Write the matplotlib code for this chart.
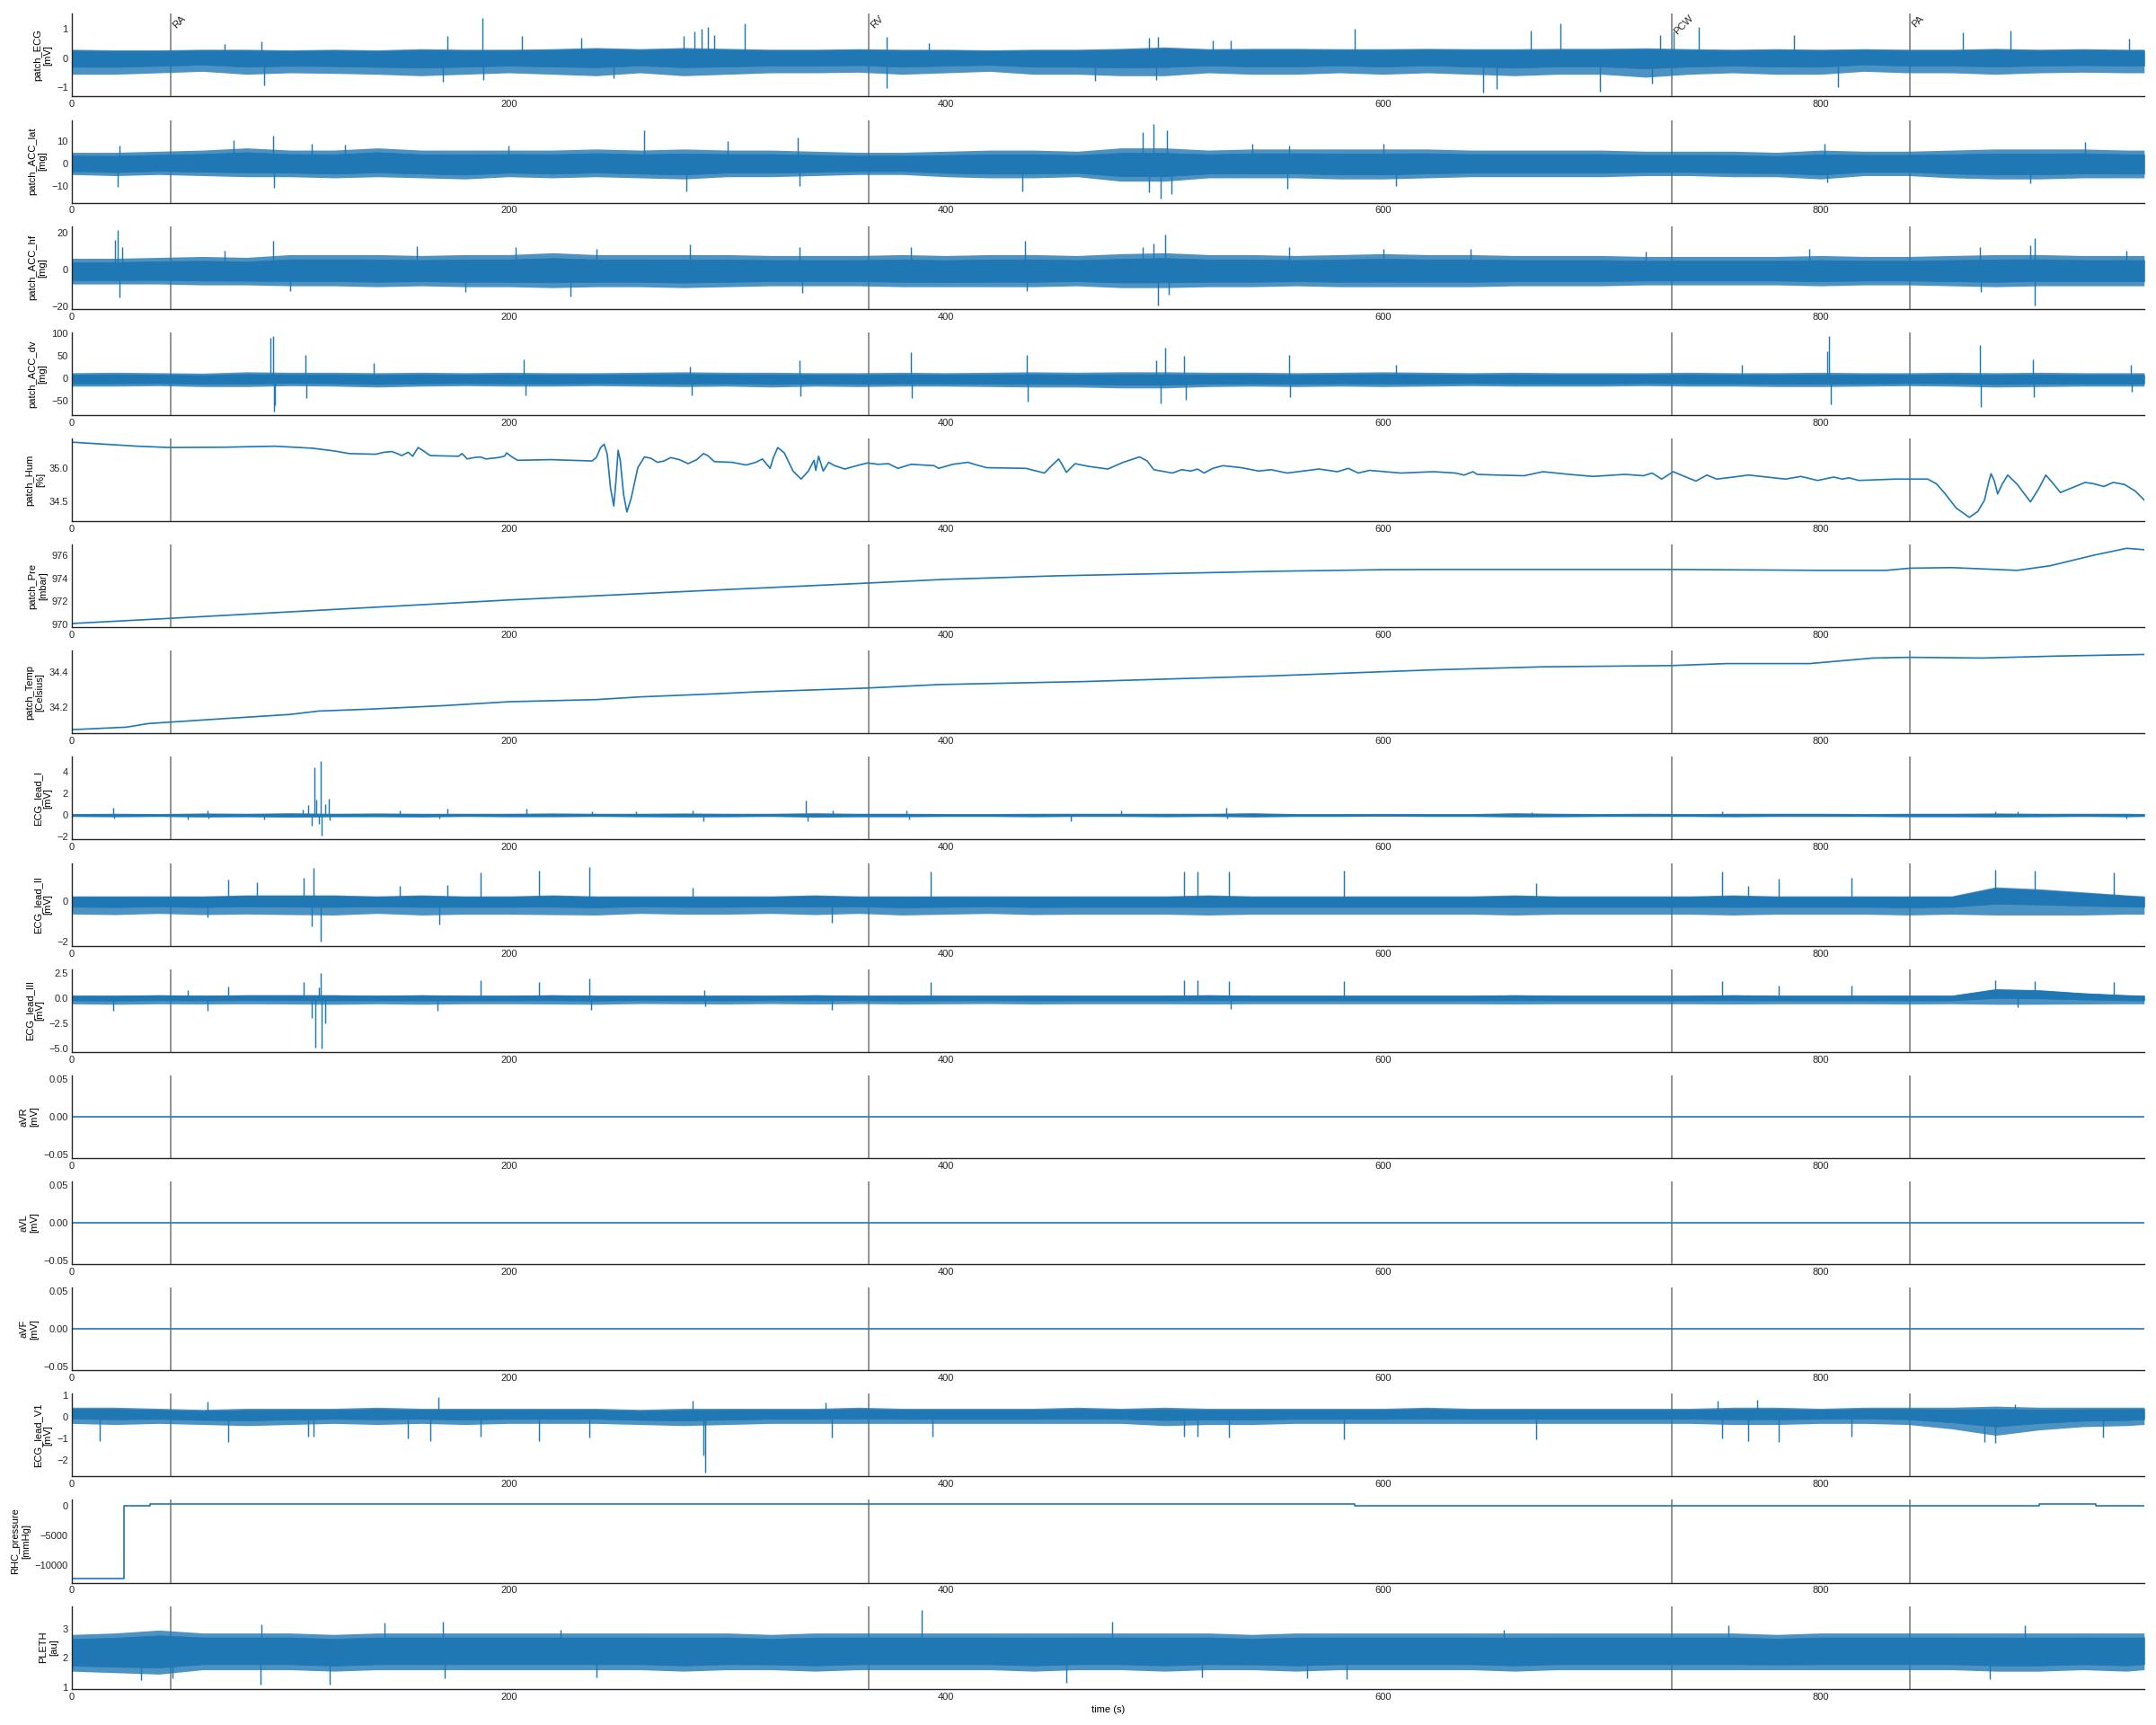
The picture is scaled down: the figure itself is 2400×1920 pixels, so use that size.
import numpy as np
import matplotlib
matplotlib.use("Agg")
import matplotlib.pyplot as plt

plt.rcParams['font.family'] = ['Liberation Sans', 'DejaVu Sans']
plt.rcParams['font.size'] = 10
plt.rcParams['axes.edgecolor'] = '.15'
plt.rcParams['axes.linewidth'] = 1.25
plt.rcParams['xtick.color'] = '.15'
plt.rcParams['ytick.color'] = '.15'
plt.rcParams['xtick.major.size'] = 0
plt.rcParams['ytick.major.size'] = 0

BLUE = '#1f77b4'
T_END = 948

# catheter positions (s)
EVENTS = [45.4, 364.6, 732.0, 841.0]
EVENT_NAMES = ['RA', 'RV', 'PCW', 'PA']

# time nodes for the band (envelope) of the dense signals
T_ENV = [0, 20, 40, 60, 80, 100, 120, 140, 160, 180, 200, 220, 240, 260, 280,
         300, 320, 340, 360, 380, 400, 420, 440, 460, 480, 500, 520, 540, 560, 580,
         600, 620, 640, 660, 680, 700, 720, 740, 760, 780, 800, 820, 840, 860, 880,
         900, 920, 940, 948]

# ---- patch_ECG
ECG_HI = [0.30, 0.28, 0.28, 0.30, 0.30, 0.28, 0.30, 0.28, 0.32, 0.30,
          0.30, 0.32, 0.36, 0.32, 0.36, 0.33, 0.30, 0.30, 0.32, 0.30,
          0.30, 0.28, 0.30, 0.30, 0.33, 0.38, 0.32, 0.33, 0.33, 0.32,
          0.32, 0.33, 0.32, 0.32, 0.33, 0.33, 0.35, 0.32, 0.30, 0.32,
          0.30, 0.32, 0.30, 0.30, 0.33, 0.30, 0.32, 0.30, 0.30]
ECG_LO = [-0.55, -0.55, -0.50, -0.45, -0.55, -0.50, -0.52, -0.55, -0.60, -0.55,
          -0.50, -0.55, -0.60, -0.50, -0.60, -0.55, -0.50, -0.50, -0.48, -0.55,
          -0.50, -0.45, -0.55, -0.55, -0.60, -0.60, -0.50, -0.55, -0.55, -0.50,
          -0.55, -0.50, -0.55, -0.60, -0.55, -0.55, -0.65, -0.55, -0.50, -0.55,
          -0.55, -0.45, -0.50, -0.50, -0.55, -0.50, -0.48, -0.50, -0.50]
ECG_SPIKES = [(70, 0.48), (87, 0.58), (88, -0.94), (170, -0.82), (172, 0.74), (188, 1.38),
              (188.5, -0.75), (206, 0.74), (233, 0.70), (248, -0.67), (280, 0.75), (285, 0.9),
              (288, 1.0), (291, 1.05), (294, 0.8), (308, 1.19), (372.7, 0.73), (373, -1.03),
              (392, 0.5), (468, -0.76), (493, 0.7), (496, -0.73), (497, 0.73), (522, 0.6),
              (530, 0.6), (587, 1.01), (645.6, -1.18), (652, -1.06), (667.6, 0.93), (681, 1.19),
              (699, -1.15), (723, -0.88), (726.5, 0.78), (732.7, 0.9), (744.3, 1.06),
              (787.7, 0.8), (808, -1.0), (865, 0.87), (887, 0.93), (941, 0.66)]

# ---- patch_ACC_lat
LAT_HI = [5, 5, 5.5, 6, 7, 6, 6, 7, 6, 6,
          6, 6, 6.5, 6, 6.5, 6, 6, 5.5, 5, 5,
          5.5, 6, 6, 5.5, 7, 7, 6, 6.5, 6.5, 6.5,
          6.5, 6.5, 6, 6, 6, 6, 5.5, 5.5, 5.5, 5,
          6, 5.5, 5.5, 6, 6.5, 6.5, 6.5, 6, 6]
LAT_LO = [-5, -5.5, -5, -5.5, -6, -6, -6.5, -6, -6.5, -7,
          -6, -6.5, -6, -6.5, -7, -6, -6, -5.5, -5, -5,
          -6, -6.5, -6.5, -6, -8, -8, -6.5, -6.5, -6.5, -7,
          -7, -6.5, -6, -6, -6, -6, -5.5, -5.5, -6, -6,
          -7, -5.5, -5.5, -6.5, -7, -7, -6.5, -6.5, -6.5]
LAT_SPIKES = [(21, -10.5), (22, 8), (74, 10.5), (92, 12.7), (92.5, -11), (110, 9), (125, 8.5),
              (200, 8), (262, 15), (281, -12.5), (300, 10), (332, 11.6), (333, -10),
              (435, -12.6), (490, 14), (493, -13), (495, 17.9), (498, -16), (501, 15),
              (503, -14), (540, 9), (556, -11.3), (557, 8), (600, 9), (606, -10), (802, 9),
              (803, -8.5), (896, -9), (921, 9.5)]

# ---- patch_ACC_hf
HF_HI = [6, 6, 6.5, 7, 6.5, 8, 8, 8, 7.5, 8,
         8, 9, 8, 8, 8, 8, 7.5, 7.5, 7.5, 8,
         7.5, 8, 8, 7.5, 8.5, 9, 8, 8, 7.5, 8,
         8.5, 8, 8, 7.5, 7.5, 7.5, 7, 7, 7, 7,
         7.5, 7, 7, 7.5, 8, 8, 7.5, 7.5, 7.5]
HF_LO = [-8, -8, -8, -8.5, -8.5, -9, -9, -9.5, -9, -9.5,
         -9.5, -10, -9.5, -9.5, -10, -9.5, -9, -9, -9, -9.5,
         -9.5, -9.5, -9.5, -9, -10, -10, -9.5, -9.5, -9, -9.5,
         -9.5, -9.5, -9.5, -9, -9, -9, -8.5, -8.5, -8.5, -8.5,
         -9, -8.5, -8.5, -9, -9.5, -9, -9, -9, -9]
HF_SPIKES = [(20, 16), (21, 21.5), (22, -15.4), (23, 12), (70, 10), (92, 15.4), (100, -12),
             (158, 12.5), (180, -12.5), (203, 12), (228, -15), (240, 11), (283, 13.6),
             (333, 11.9), (334, -13.1), (384, 12), (436, 15.4), (437, -12), (490, 12),
             (495, 14), (497, -19.5), (500.4, 19.1), (502, -14), (557, 12), (600, 11),
             (640, 11), (720, 9.5), (795, 11), (873, 12), (873.5, -12.3), (896, 13),
             (897.8, 17), (898, -19.5), (940, 10)]

# ---- patch_ACC_dv
DV_HI = [12, 13, 12, 11, 14, 13, 13, 12, 13, 12,
         13, 12, 12, 13, 14, 13, 13, 12, 12, 13,
         12, 13, 14, 13, 14, 14, 13, 13, 12, 13,
         14, 13, 12, 13, 12, 12, 12, 13, 12, 12,
         13, 12, 12, 13, 12, 13, 12, 12, 12]
DV_LO = [-18, -18, -17, -19, -19, -17, -18, -20, -18, -17,
         -18, -18, -17, -18, -19, -18, -20, -18, -19, -18,
         -18, -19, -20, -20, -22, -22, -19, -18, -19, -18,
         -19, -18, -17, -18, -18, -18, -17, -18, -18, -19,
         -19, -18, -17, -18, -20, -19, -18, -18, -18]
DV_SPIKES = [(91, 90), (92, 94), (92.5, -74), (93, -60), (107, 52), (107.5, -44), (138, 34),
             (207, 42), (207.5, -38), (283, 25), (283.5, -38), (333, 40), (333.5, -40),
             (384, 57), (384.5, -45), (437, 51), (437.5, -52), (496, 40), (498, -56),
             (500, 67), (509, 50), (509.5, -48), (557, 52), (557.5, -42), (606, 30),
             (764, 30), (803, 60), (804, 94), (804.5, -59), (873, 74), (873.5, -65),
             (897, 42), (897.5, -42), (942, 30), (942.5, -30)]

# ---- patch_Hum (t, %)
HUM_POINTS = [(0, 35.38), (15, 35.35), (30, 35.32), (45, 35.30), (70, 35.305), (93, 35.32),
              (110, 35.29), (120, 35.25), (127, 35.21), (139, 35.20), (143, 35.23),
              (146.5, 35.24), (149, 35.21), (151, 35.18), (154, 35.23), (156, 35.17),
              (158.5, 35.30), (161, 35.25), (164, 35.18), (177, 35.17), (178.6, 35.21),
              (181, 35.13), (184, 35.15), (187, 35.16), (189.5, 35.13), (195, 35.15),
              (198, 35.17), (199, 35.22), (201, 35.17), (204, 35.11), (219, 35.12),
              (238, 35.10), (240, 35.15), (242, 35.30), (243.6, 35.35), (245, 35.2),
              (246.5, 34.7), (248, 34.43), (249, 34.8), (250, 35.26), (251, 35.1),
              (252.5, 34.6), (254, 34.34), (256, 34.55), (259, 35.0), (262, 35.16),
              (265, 35.14), (268, 35.08), (271, 35.10), (274, 35.15), (278, 35.12),
              (282, 35.06), (286, 35.12), (289, 35.21), (291, 35.18), (294, 35.09),
              (302, 35.08), (308.6, 35.04), (313, 35.08), (316, 35.13), (319.5, 34.99),
              (321, 35.15), (323, 35.30), (326, 35.22), (330, 34.95), (333.7, 34.83),
              (337, 34.95), (339.6, 35.11), (340.4, 34.96), (341.7, 35.17), (343.8, 34.95),
              (346.3, 35.08), (349, 35.03), (353.7, 34.98), (358, 35.02), (364, 35.07),
              (369, 35.05), (373.6, 35.06), (378, 34.99), (384, 35.05), (394.5, 35.03),
              (396.6, 34.99), (403, 35.05), (410, 35.08), (414, 35.04), (418.6, 35.00),
              (436.5, 34.99), (445, 34.92), (448, 35.02), (451.5, 35.13), (453, 35.05),
              (455, 34.93), (459, 35.06), (465, 35.02), (474, 34.98), (481, 35.08),
              (488.5, 35.16), (492, 35.10), (495, 34.97), (503.5, 34.92), (507.7, 34.97),
              (512, 34.95), (515, 34.98), (518, 34.92), (522, 34.99), (526.6, 35.03),
              (535, 35.00), (543, 34.95), (548.6, 34.97), (556, 34.92), (570.6, 34.98),
              (579, 34.94), (584, 34.99), (588.5, 34.92), (593.7, 34.96), (608, 34.92),
              (623, 34.94), (633, 34.92), (637, 34.89), (641, 34.94), (643, 34.90),
              (652, 34.89), (664.4, 34.88), (673, 34.94), (685, 34.90), (696, 34.87),
              (710.6, 34.90), (719, 34.88), (723, 34.92), (727.3, 34.83), (732.6, 34.94),
              (737, 34.88), (743, 34.80), (748, 34.89), (752.5, 34.83), (760, 34.86),
              (767, 34.89), (784, 34.83), (791, 34.87), (798.6, 34.81), (806, 34.86),
              (810, 34.83), (813, 34.85), (817.5, 34.81), (834, 34.83), (849, 34.83),
              (853, 34.76), (857, 34.61), (862, 34.40), (868, 34.26), (872, 34.35),
              (875, 34.52), (877, 34.80), (878, 34.91), (879.5, 34.80), (881, 34.61),
              (883, 34.75), (885.6, 34.89), (890, 34.75), (896, 34.49), (900, 34.70),
              (903, 34.89), (906, 34.78), (909.7, 34.63), (915, 34.70), (921, 34.78),
              (925, 34.76), (929.6, 34.72), (933.8, 34.78), (939, 34.75), (944, 34.65),
              (948, 34.52)]

# ---- patch_Pre (t, mbar)
PRE_POINTS = [(0, 970.05), (45, 970.5), (200, 972.1), (294, 972.96), (364, 973.57),
              (400, 973.9), (450, 974.2), (500, 974.4), (550, 974.6), (600, 974.74),
              (625, 974.76), (732, 974.76), (800, 974.68), (830, 974.68), (841, 974.87),
              (860, 974.92), (890, 974.68), (905, 975.08), (925, 976.0), (940, 976.6),
              (948, 976.48)]

# ---- patch_Temp (t, Celsius)
TEMP_POINTS = [(0, 34.076), (25, 34.09), (35, 34.11), (45, 34.118), (70, 34.138),
               (100, 34.161), (113, 34.18), (135, 34.19), (170, 34.21), (200, 34.232),
               (240, 34.244), (260, 34.259), (294, 34.276), (313, 34.287), (363, 34.308),
               (397, 34.328), (464, 34.345), (548, 34.376), (623, 34.41), (673, 34.427),
               (732, 34.434), (757, 34.445), (795, 34.445), (824, 34.476), (841, 34.48),
               (874, 34.476), (908, 34.487), (948, 34.496)]

# ---- ECG_lead_I
L1_HI = [0.12, 0.15, 0.12, 0.18, 0.15, 0.20, 0.15, 0.18, 0.15, 0.15,
         0.15, 0.18, 0.15, 0.15, 0.18, 0.15, 0.15, 0.20, 0.15, 0.15,
         0.12, 0.12, 0.15, 0.15, 0.15, 0.15, 0.15, 0.20, 0.12, 0.12,
         0.12, 0.12, 0.12, 0.20, 0.15, 0.12, 0.15, 0.12, 0.15, 0.15,
         0.15, 0.12, 0.15, 0.15, 0.18, 0.15, 0.15, 0.15, 0.12]
L1_LO = [-0.15, -0.18, -0.15, -0.20, -0.18, -0.22, -0.18, -0.18, -0.20, -0.15,
         -0.18, -0.18, -0.15, -0.18, -0.20, -0.18, -0.15, -0.22, -0.18, -0.18,
         -0.15, -0.15, -0.18, -0.15, -0.15, -0.18, -0.15, -0.20, -0.15, -0.15,
         -0.12, -0.15, -0.15, -0.20, -0.18, -0.15, -0.15, -0.15, -0.18, -0.15,
         -0.15, -0.15, -0.18, -0.18, -0.20, -0.18, -0.15, -0.18, -0.15]
L1_SPIKES = [(19, 0.65), (19.5, -0.3), (53, -0.45), (62, 0.4), (62.5, -0.35), (88, -0.4),
             (105.6, 0.5), (108, 0.9), (110, -1.0), (111, 4.44), (112, 1.4), (113, -0.8),
             (114, 5.06), (114.5, -1.95), (116, 1.0), (117.6, 1.5), (118, -0.5), (150, 0.4),
             (168, -0.35), (172, 0.6), (208, 0.55), (238, 0.3), (258, 0.35), (284, 0.4),
             (289, -0.6), (336, 1.36), (336.5, -0.6), (348, 0.4), (382, 0.4), (383, -0.4),
             (457, -0.6), (480, 0.4), (528, 0.65), (528.5, -0.3), (668, 0.25), (755, 0.35),
             (880, 0.3), (890, 0.35), (940, -0.3)]

# ---- ECG_lead_II
L2_HI = [0.25, 0.25, 0.25, 0.25, 0.30, 0.30, 0.30, 0.25, 0.30, 0.25,
         0.25, 0.30, 0.25, 0.25, 0.25, 0.25, 0.25, 0.30, 0.25, 0.25,
         0.25, 0.25, 0.25, 0.25, 0.25, 0.25, 0.30, 0.25, 0.25, 0.25,
         0.25, 0.25, 0.25, 0.30, 0.25, 0.25, 0.25, 0.25, 0.30, 0.25,
         0.25, 0.25, 0.25, 0.25, 0.70, 0.60, 0.45, 0.30, 0.25]
L2_LO = [-0.65, -0.68, -0.62, -0.68, -0.65, -0.68, -0.70, -0.62, -0.70, -0.66,
         -0.66, -0.68, -0.70, -0.62, -0.66, -0.66, -0.62, -0.68, -0.62, -0.70,
         -0.66, -0.62, -0.68, -0.66, -0.66, -0.66, -0.70, -0.66, -0.66, -0.66,
         -0.66, -0.66, -0.66, -0.70, -0.66, -0.66, -0.66, -0.66, -0.70, -0.66,
         -0.66, -0.66, -0.70, -0.66, -0.70, -0.70, -0.70, -0.66, -0.66]
L2_SPIKES = [(62, -0.8), (71.5, 1.05), (84.7, 0.95), (106, 1.15), (110, -1.26), (110.5, 1.63),
             (114, -2.04), (150, 0.75), (168, -1.15), (172, 0.8), (187, 1.4), (214, 1.5),
             (237, 1.7), (284, 0.65), (347.6, -1.1), (393, 1.48), (509, 1.48), (515, 1.48),
             (529.5, 1.48), (582, 1.52), (670, 0.9), (755, 1.48), (767, 0.75), (781, 1.1),
             (814, 1.15), (880, 1.55), (898, 1.5), (934, 1.4)]

# ---- ECG_lead_III
L3_HI = [0.25, 0.25, 0.30, 0.25, 0.30, 0.30, 0.30, 0.25, 0.30, 0.25,
         0.25, 0.30, 0.25, 0.25, 0.25, 0.25, 0.25, 0.30, 0.25, 0.25,
         0.25, 0.25, 0.25, 0.25, 0.25, 0.25, 0.30, 0.25, 0.25, 0.25,
         0.25, 0.25, 0.25, 0.30, 0.25, 0.25, 0.25, 0.25, 0.30, 0.25,
         0.25, 0.25, 0.25, 0.25, 0.90, 0.80, 0.50, 0.30, 0.25]
L3_LO = [-0.60, -0.65, -0.60, -0.62, -0.60, -0.62, -0.65, -0.60, -0.65, -0.60,
         -0.60, -0.62, -0.65, -0.58, -0.60, -0.62, -0.58, -0.62, -0.58, -0.62,
         -0.60, -0.58, -0.62, -0.60, -0.60, -0.60, -0.62, -0.60, -0.60, -0.60,
         -0.60, -0.60, -0.60, -0.62, -0.60, -0.60, -0.60, -0.60, -0.62, -0.60,
         -0.60, -0.60, -0.62, -0.60, -0.65, -0.65, -0.62, -0.60, -0.60]
L3_SPIKES = [(19, -1.3), (53, 0.8), (62, -1.3), (71.5, 1.1), (106, 1.6), (110, -2.0),
             (111.5, -4.97), (113, 1.0), (114, 2.47), (114.5, -5.0), (116, -2.5),
             (167.5, -1.3), (187, 1.73), (214, 1.6), (237, 1.93), (237.5, -1.2),
             (289.5, 0.8), (290, -0.8), (347.6, -1.2), (393, 1.6), (509, 1.75), (515, 1.75),
             (529.5, 1.7), (530, -1.1), (582, 1.7), (755, 1.7), (781, 1.2), (814, 1.2),
             (880, 1.75), (890, -0.9), (898, 1.7), (934, 1.6)]

# ---- ECG_lead_V1
V1_HI = [0.45, 0.45, 0.40, 0.35, 0.40, 0.40, 0.40, 0.45, 0.40, 0.40,
         0.40, 0.40, 0.40, 0.35, 0.40, 0.40, 0.40, 0.40, 0.45, 0.40,
         0.40, 0.40, 0.40, 0.45, 0.40, 0.45, 0.40, 0.40, 0.40, 0.40,
         0.40, 0.45, 0.40, 0.40, 0.40, 0.40, 0.40, 0.40, 0.45, 0.45,
         0.40, 0.45, 0.45, 0.45, 0.50, 0.45, 0.45, 0.45, 0.45]
V1_LO = [-0.30, -0.35, -0.30, -0.35, -0.40, -0.35, -0.30, -0.35, -0.30, -0.35,
         -0.30, -0.30, -0.30, -0.35, -0.40, -0.35, -0.30, -0.30, -0.30, -0.30,
         -0.30, -0.30, -0.30, -0.30, -0.30, -0.40, -0.35, -0.35, -0.30, -0.30,
         -0.30, -0.30, -0.30, -0.30, -0.30, -0.30, -0.30, -0.30, -0.35, -0.35,
         -0.30, -0.30, -0.35, -0.55, -0.85, -0.60, -0.45, -0.40, -0.35]
V1_SPIKES = [(13, -1.12), (62, 0.7), (71.5, -1.15), (108, -0.9), (110.5, -0.9), (154, -1.0),
             (164, -1.1), (167.7, 0.9), (187, -0.9), (214, -1.1), (237, -0.95), (284, 0.75),
             (289, -1.8), (290, -2.58), (345, 0.65), (347.8, -0.93), (393.7, -0.9),
             (509, -0.9), (515, -0.9), (529.5, -0.95), (582, -1.05), (670, -1.05),
             (753, 0.75), (755, -1.0), (767, -1.1), (771, 0.8), (781, -1.15), (814, -0.9),
             (875, -1.15), (880, -1.2), (889, 0.6), (929, -0.95)]

# ---- RHC_pressure (step changes: t, mmHg)
RHC_T = [0, 24, 36, 587, 900, 926, 948]
RHC_V = [-12320, -60, 250, -50, 350, -50, -50]

# ---- PLETH
PL_HI = [2.80, 2.85, 2.95, 2.85, 2.85, 2.85, 2.80, 2.85, 2.85, 2.85,
         2.85, 2.85, 2.85, 2.85, 2.85, 2.85, 2.80, 2.85, 2.85, 2.85,
         2.85, 2.85, 2.85, 2.85, 2.85, 2.85, 2.85, 2.80, 2.85, 2.85,
         2.85, 2.85, 2.85, 2.85, 2.85, 2.85, 2.85, 2.85, 2.85, 2.80,
         2.85, 2.85, 2.85, 2.85, 2.85, 2.85, 2.85, 2.85, 2.85]
PL_LO = [1.55, 1.50, 1.45, 1.60, 1.60, 1.60, 1.55, 1.60, 1.60, 1.60,
         1.60, 1.60, 1.60, 1.60, 1.55, 1.60, 1.60, 1.55, 1.60, 1.60,
         1.60, 1.60, 1.55, 1.60, 1.60, 1.55, 1.60, 1.60, 1.55, 1.60,
         1.60, 1.60, 1.60, 1.55, 1.60, 1.60, 1.60, 1.60, 1.60, 1.60,
         1.60, 1.60, 1.60, 1.60, 1.55, 1.55, 1.60, 1.55, 1.60]
PL_SPIKES = [(31.7, 1.25), (46, 1.3), (86.6, 1.08), (87, 3.15), (118, 1.08), (143, 3.2),
             (170, 3.25), (170.5, 1.3), (223.5, 2.95), (240, 1.35), (389, 3.64), (455, 1.15),
             (476, 3.25), (517, 1.33), (565, 1.3), (583, 1.28), (655, 2.95), (758, 3.11),
             (877.5, 1.28), (893.5, 3.12)]

LABELS = ['patch_ECG\n[mV]', 'patch_ACC_lat\n[mg]', 'patch_ACC_hf\n[mg]', 'patch_ACC_dv\n[mg]',
          'patch_Hum\n[%]', 'patch_Pre\n[mbar]', 'patch_Temp\n[Celsius]', 'ECG_lead_I\n[mV]',
          'ECG_lead_II\n[mV]', 'ECG_lead_III\n[mV]', 'aVR\n[mV]', 'aVL\n[mV]', 'aVF\n[mV]',
          'ECG_lead_V1\n[mV]', 'RHC_pressure\n[mmHg]', 'PLETH\n[au]']


def dense(ax, hi, lo, spikes, top=0.1, bot=0.1):
    # solid core of the trace plus a slightly lighter fringe where only the peaks reach
    hi = np.array(hi)
    lo = np.array(lo)
    w = hi - lo
    ax.fill_between(T_ENV, lo, hi, color=BLUE, alpha=0.8, lw=0)
    ax.fill_between(T_ENV, lo + bot * w, hi - top * w, color=BLUE, lw=0.6)
    st = np.array([s[0] for s in spikes])
    sv = np.array([s[1] for s in spikes])
    base = np.interp(st, T_ENV, (hi + lo) / 2)
    ax.vlines(st, base, sv, color=BLUE, lw=1.3)


def curve(ax, points):
    ax.plot([p[0] for p in points], [p[1] for p in points], color=BLUE, lw=1.5)


fig, axes = plt.subplots(16, 1, figsize=(30, 24), dpi=80)
fig.subplots_adjust(left=0.0332, right=0.9945, top=0.992, bottom=0.021, hspace=0.283)

dense(axes[0], ECG_HI, ECG_LO, ECG_SPIKES, 0.05, 0.3)
dense(axes[1], LAT_HI, LAT_LO, LAT_SPIKES, 0.15, 0.15)
dense(axes[2], HF_HI, HF_LO, HF_SPIKES, 0.15, 0.15)
dense(axes[3], DV_HI, DV_LO, DV_SPIKES, 0.15, 0.2)
curve(axes[4], HUM_POINTS)
curve(axes[5], PRE_POINTS)
curve(axes[6], TEMP_POINTS)
dense(axes[7], L1_HI, L1_LO, L1_SPIKES, 0.2, 0.2)
dense(axes[8], L2_HI, L2_LO, L2_SPIKES, 0.05, 0.4)
dense(axes[9], L3_HI, L3_LO, L3_SPIKES, 0.05, 0.4)
for ax in axes[10:13]:
    ax.plot([0, T_END], [0, 0], color=BLUE, lw=1.5)
dense(axes[13], V1_HI, V1_LO, V1_SPIKES, 0.1, 0.3)
axes[14].plot(RHC_T, RHC_V, color=BLUE, lw=1.5, drawstyle='steps-post')
dense(axes[15], PL_HI, PL_LO, PL_SPIKES, 0.12, 0.15)

for ax, lab in zip(axes, LABELS):
    ax.set_xlim(0, T_END)
    for x in EVENTS:
        ax.axvline(x, color='gray', lw=1.5, zorder=0.5)
    ax.set_ylabel(lab)
    ax.spines['top'].set_visible(False)
    ax.spines['right'].set_visible(False)
    ax.set_xticks([0, 200, 400, 600, 800])

for x, name in zip(EVENTS, EVENT_NAMES):
    axes[0].text(x, axes[0].get_ylim()[1], name, rotation=45, ha='left', va='top',
                 fontsize=10, color='.15')

axes[-1].set_xlabel('time (s)')

fig.savefig('out.png', dpi=80)
